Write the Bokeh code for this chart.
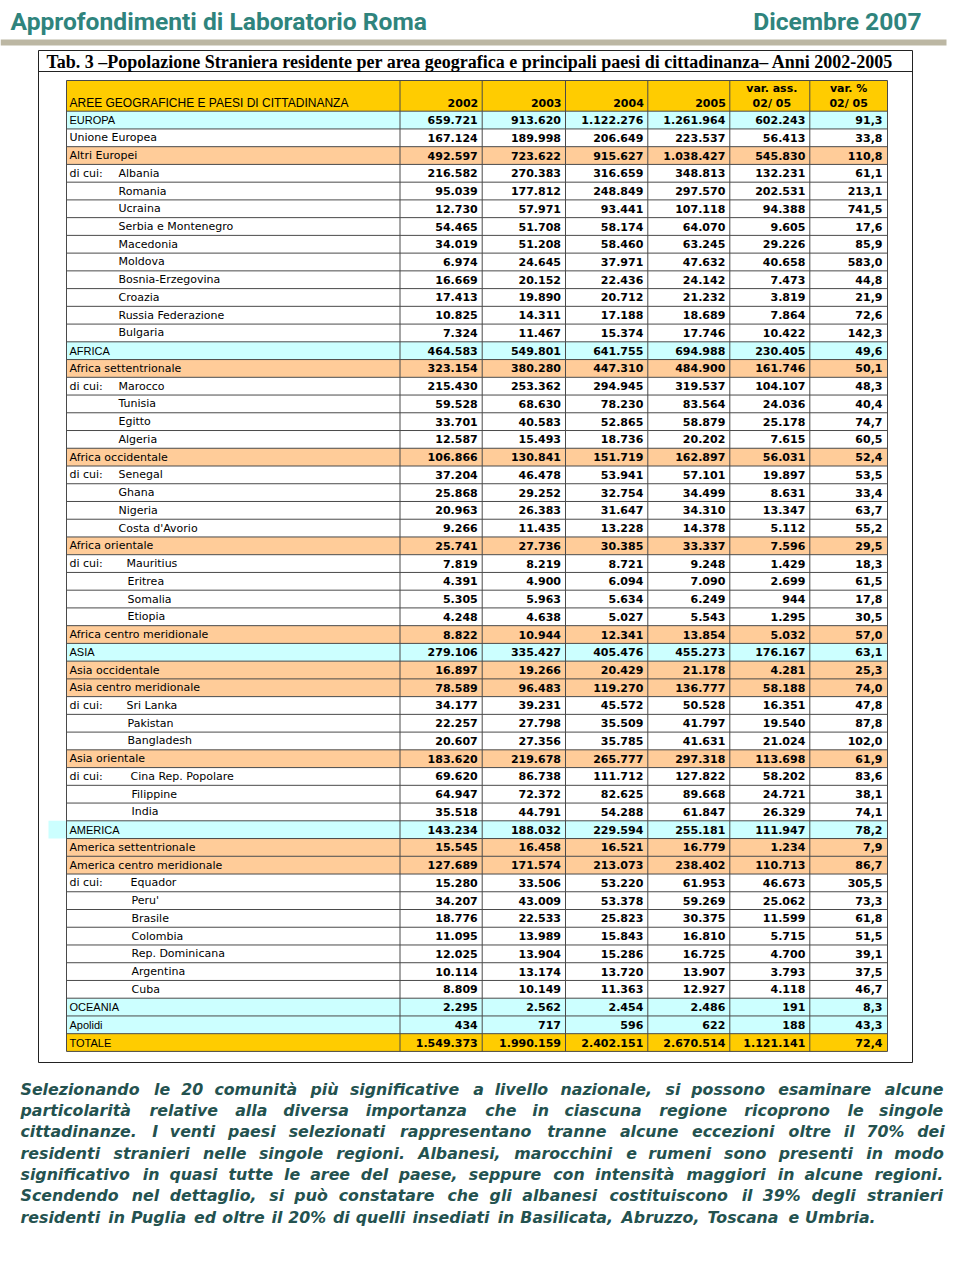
from bokeh.plotting import figure
from bokeh.models import ColumnDataSource, Range1d
from bokeh.embed import file_html
from bokeh.resources import INLINE
from bokeh.core.properties import value

# ---------------- data ----------------
labels = ["EUROPA", "Unione Europea", "Altri Europei", "Albania", "Romania", "Ucraina",
          "Serbia e Montenegro", "Macedonia", "Moldova", "Bosnia-Erzegovina", "Croazia",
          "Russia Federazione", "Bulgaria", "AFRICA", "Africa settentrionale", "Marocco",
          "Tunisia", "Egitto", "Algeria", "Africa occidentale", "Senegal", "Ghana", "Nigeria",
          "Costa d'Avorio", "Africa orientale", "Mauritius", "Eritrea", "Somalia", "Etiopia",
          "Africa centro meridionale", "ASIA", "Asia occidentale", "Asia centro meridionale",
          "Sri Lanka", "Pakistan", "Bangladesh", "Asia orientale", "Cina Rep. Popolare",
          "Filippine", "India", "AMERICA", "America settentrionale",
          "America centro meridionale", "Equador", "Peru'", "Brasile", "Colombia",
          "Rep. Dominicana", "Argentina", "Cuba", "OCEANIA", "Apolidi", "TOTALE"]

# row kinds: C = continent, S = sub-area, P = plain, F = first country ("di cui:"), K = country, T = total
kinds = ["C", "P", "S", "F", "K", "K", "K", "K", "K", "K", "K", "K", "K",
         "C", "S", "F", "K", "K", "K", "S", "F", "K", "K", "K", "S", "F", "K", "K", "K", "S",
         "C", "S", "S", "F", "K", "K", "S", "F", "K", "K",
         "C", "S", "S", "F", "K", "K", "K", "K", "K", "K", "C", "C", "T"]

# indentation group of country names
indent = ["-", "-", "-", "E", "E", "E", "E", "E", "E", "E", "E", "E", "E",
          "-", "-", "E", "E", "E", "E", "-", "E", "E", "E", "E", "-", "O", "O", "O", "O", "-",
          "-", "-", "-", "O", "O", "O", "-", "X", "X", "X",
          "-", "-", "-", "X", "X", "X", "X", "X", "X", "X", "-", "-", "-"]

v2002 = [659721, 167124, 492597, 216582, 95039, 12730, 54465, 34019, 6974, 16669, 17413, 10825, 7324,
         464583, 323154, 215430, 59528, 33701, 12587, 106866, 37204, 25868, 20963, 9266, 25741, 7819,
         4391, 5305, 4248, 8822, 279106, 16897, 78589, 34177, 22257, 20607, 183620, 69620, 64947, 35518,
         143234, 15545, 127689, 15280, 34207, 18776, 11095, 12025, 10114, 8809, 2295, 434, 1549373]
v2003 = [913620, 189998, 723622, 270383, 177812, 57971, 51708, 51208, 24645, 20152, 19890, 14311, 11467,
         549801, 380280, 253362, 68630, 40583, 15493, 130841, 46478, 29252, 26383, 11435, 27736, 8219,
         4900, 5963, 4638, 10944, 335427, 19266, 96483, 39231, 27798, 27356, 219678, 86738, 72372, 44791,
         188032, 16458, 171574, 33506, 43009, 22533, 13989, 13904, 13174, 10149, 2562, 717, 1990159]
v2004 = [1122276, 206649, 915627, 316659, 248849, 93441, 58174, 58460, 37971, 22436, 20712, 17188, 15374,
         641755, 447310, 294945, 78230, 52865, 18736, 151719, 53941, 32754, 31647, 13228, 30385, 8721,
         6094, 5634, 5027, 12341, 405476, 20429, 119270, 45572, 35509, 35785, 265777, 111712, 82625, 54288,
         229594, 16521, 213073, 53220, 53378, 25823, 15843, 15286, 13720, 11363, 2454, 596, 2402151]
v2005 = [1261964, 223537, 1038427, 348813, 297570, 107118, 64070, 63245, 47632, 24142, 21232, 18689, 17746,
         694988, 484900, 319537, 83564, 58879, 20202, 162897, 57101, 34499, 34310, 14378, 33337, 9248,
         7090, 6249, 5543, 13854, 455273, 21178, 136777, 50528, 41797, 41631, 297318, 127822, 89668, 61847,
         255181, 16779, 238402, 61953, 59269, 30375, 16810, 16725, 13907, 12927, 2486, 622, 2670514]
var_ass = [602243, 56413, 545830, 132231, 202531, 94388, 9605, 29226, 40658, 7473, 3819, 7864, 10422,
           230405, 161746, 104107, 24036, 25178, 7615, 56031, 19897, 8631, 13347, 5112, 7596, 1429,
           2699, 944, 1295, 5032, 176167, 4281, 58188, 16351, 19540, 21024, 113698, 58202, 24721, 26329,
           111947, 1234, 110713, 46673, 25062, 11599, 5715, 4700, 3793, 4118, 191, 188, 1121141]
var_pct = [91.3, 33.8, 110.8, 61.1, 213.1, 741.5, 17.6, 85.9, 583.0, 44.8, 21.9, 72.6, 142.3,
           49.6, 50.1, 48.3, 40.4, 74.7, 60.5, 52.4, 53.5, 33.4, 63.7, 55.2, 29.5, 18.3,
           61.5, 17.8, 30.5, 57.0, 63.1, 25.3, 74.0, 47.8, 87.8, 102.0, 61.9, 83.6, 38.1, 74.1,
           78.2, 7.9, 86.7, 305.5, 73.3, 61.8, 51.5, 39.1, 37.5, 46.7, 8.3, 43.3, 72.4]

col_headers = ["2002", "2003", "2004", "2005"]
header_label = "AREE GEOGRAFICHE E PAESI DI CITTADINANZA"

page_title = "Approfondimenti di Laboratorio Roma"
page_date = "Dicembre 2007"
table_title = ("Tab. 3 \u2013Popolazione Straniera residente per area geografica e principali "
               "paesi di cittadinanza\u2013 Anni 2002-2005")

paragraph = [
    "Selezionando le 20 comunità più significative a livello nazionale, si possono esaminare alcune",
    "particolarità relative alla diversa importanza che in ciascuna regione ricoprono le singole",
    "cittadinanze. I venti paesi selezionati rappresentano tranne alcune eccezioni oltre il 70% dei",
    "residenti stranieri nelle singole regioni. Albanesi, marocchini e rumeni sono presenti in modo",
    "significativo in quasi tutte le aree del paese, seppure con intensità maggiori in alcune regioni.",
    "Scendendo nel dettaglio, si può constatare che gli albanesi costituiscono il 39% degli stranieri",
    "residenti in Puglia ed oltre il 20% di quelli insediati in Basilicata, Abruzzo, Toscana e Umbria.",
]


def fmt_int(n):
    return f"{n:,}".replace(",", ".")


def fmt_pct(x):
    return f"{x:.1f}".replace(".", ",")


# approximate advance widths (em) of DejaVu Sans Bold, used to justify the paragraph
_W = {" ": 0.348, "a": 0.675, "b": 0.716, "c": 0.593, "d": 0.716, "e": 0.678, "f": 0.435,
      "g": 0.716, "h": 0.712, "i": 0.343, "j": 0.343, "k": 0.665, "l": 0.343, "m": 1.042,
      "n": 0.712, "o": 0.687, "p": 0.716, "q": 0.716, "r": 0.493, "s": 0.595, "t": 0.478,
      "u": 0.712, "v": 0.652, "w": 0.924, "x": 0.645, "y": 0.652, "z": 0.582, ",": 0.380,
      ".": 0.380, "%": 1.002, "S": 0.720, "I": 0.372, "A": 0.774, "P": 0.734, "B": 0.762,
      "T": 0.683, "U": 0.812, "à": 0.675, "ù": 0.712, "ò": 0.687}


def em_width(s):
    return 1.031 * sum(_W.get(ch, 0.696) for ch in s)


# ---------------- layout ----------------
W, H = 956, 1271
p = figure(width=W, height=H, x_range=Range1d(0, W), y_range=Range1d(H, 0),
           output_backend="svg", toolbar_location=None, min_border=0,
           x_axis_type=None, y_axis_type=None)
p.grid.visible = False
p.outline_line_color = None
p.background_fill_color = "white"
p.border_fill_color = "white"

TEAL = "#2f847d"
DARK_TEAL = "#24524f"

# page header
p.text(x=[10], y=[21], text=[page_title], text_font=value("Roboto"), text_font_size="24.6px",
       text_font_style="bold", text_color=TEAL, text_baseline="middle", text_align="left")
p.text(x=[921], y=[21], text=[page_date], text_font=value("Roboto"), text_font_size="24.6px",
       text_font_style="bold", text_color=TEAL, text_baseline="middle", text_align="right")
p.quad(left=[0], right=[946], top=[39], bottom=[45], fill_color="#bcb7a3", line_color=None)

# frame
FL, FR, FT, FB = 38, 912, 50, 1062
p.quad(left=[FL], right=[FR], top=[FT], bottom=[FB], fill_color=None, line_color="#222222", line_width=1)
p.segment(x0=[FL], x1=[FR], y0=[71], y1=[71], line_color="#222222", line_width=1)
p.text(x=[46], y=[61], text=[table_title], text_font=value("Liberation Serif"), text_font_size="18px",
       text_font_style="bold", text_color="black", text_baseline="middle", text_align="left")

# table geometry
cols = [66, 399.5, 481.7, 565.0, 647.3, 729.3, 809.3, 887.0]
HT = 80.0
top0 = 110.7
rh = 17.74
n = len(labels)
tops = [top0 + i * rh for i in range(n)]
mids = [t + rh / 2 for t in tops]

fill_map = {"C": "#ccffff", "S": "#ffcc99", "T": "#ffcc00", "P": "#ffffff", "F": "#ffffff", "K": "#ffffff"}
fills = [fill_map[k] for k in kinds]

# header background
p.quad(left=[cols[0]], right=[cols[-1]], top=[HT], bottom=[top0], fill_color="#ffcc00", line_color=None)
# row backgrounds
rows_src = ColumnDataSource(dict(left=[cols[0]] * n, right=[cols[-1]] * n, top=tops,
                                 bottom=[t + rh for t in tops], fill=fills))
p.quad(left="left", right="right", top="top", bottom="bottom", fill_color="fill",
       line_color=None, source=rows_src)
# stray cyan patch left of AMERICA row (as in the original)
ia = labels.index("AMERICA")
p.quad(left=[48], right=[cols[0]], top=[tops[ia]], bottom=[tops[ia] + rh], fill_color="#ccffff",
       line_color=None)

# grid lines
ys = [HT] + tops + [tops[-1] + rh]
p.segment(x0=[cols[0]] * len(ys), x1=[cols[-1]] * len(ys), y0=ys, y1=ys, line_color="#4a4a4a", line_width=1)
p.segment(x0=cols, x1=cols, y0=[HT] * len(cols), y1=[ys[-1]] * len(cols), line_color="#4a4a4a", line_width=1)

# header texts
hy = 102.5
p.text(x=[69], y=[hy], text=[header_label], text_font=value("Liberation Sans"), text_font_size="12px",
       text_color="black", text_baseline="middle", text_align="left")
p.text(x=[c - 4 for c in cols[2:6]], y=[hy] * 4, text=col_headers, text_font=value("DejaVu Sans"),
       text_font_size="11px", text_font_style="bold", text_color="black", text_baseline="middle",
       text_align="right")
p.text(x=[(cols[5] + cols[6]) / 2 + 2, (cols[5] + cols[6]) / 2 + 2], y=[87.5, 102.5],
       text=["var. ass.", "02/ 05"], text_font=value("DejaVu Sans"), text_font_size="11px",
       text_font_style="bold", text_color="black", text_baseline="middle", text_align="center")
p.text(x=[(cols[6] + cols[7]) / 2, (cols[6] + cols[7]) / 2], y=[87.5, 102.5],
       text=["var. %", "02/ 05"], text_font=value("DejaVu Sans"), text_font_size="11px",
       text_font_style="bold", text_color="black", text_baseline="middle", text_align="center")

# labels
ind_x = {"E": 118, "O": 127, "X": 131}
arial_x, arial_y, arial_t = [], [], []
dv_x, dv_y, dv_t = [], [], []
for i, (lab, k, ind) in enumerate(zip(labels, kinds, indent)):
    if k in ("C", "T"):
        arial_x.append(69); arial_y.append(mids[i]); arial_t.append(lab)
    elif k in ("S", "P"):
        dv_x.append(69); dv_y.append(mids[i]); dv_t.append(lab)
    else:
        if k == "F":
            dv_x.append(69); dv_y.append(mids[i]); dv_t.append("di cui:")
        x = ind_x[ind]
        if k == "F" and ind == "O":
            x = 126
        if k == "F" and ind == "X":
            x = 130
        dv_x.append(x); dv_y.append(mids[i]); dv_t.append(lab)

p.text(x=arial_x, y=arial_y, text=arial_t, text_font=value("Liberation Sans"), text_font_size="11px",
       text_color="black", text_baseline="middle", text_align="left")
p.text(x=dv_x, y=dv_y, text=dv_t, text_font=value("DejaVu Sans"), text_font_size="11px",
       text_color="black", text_baseline="middle", text_align="left")

# numbers
series = [v2002, v2003, v2004, v2005, var_ass]
nx, ny, nt = [], [], []
for j, s in enumerate(series):
    for i, v in enumerate(s):
        nx.append(cols[j + 2] - 4.5); ny.append(mids[i]); nt.append(fmt_int(v))
for i, v in enumerate(var_pct):
    nx.append(cols[7] - 5); ny.append(mids[i]); nt.append(fmt_pct(v))
p.text(x=nx, y=ny, text=nt, text_font=value("DejaVu Sans"), text_font_size="11px",
       text_font_style="bold", text_color="black", text_baseline="middle", text_align="right")

# paragraph (justified: words placed one by one, last line left aligned)
PL, PR = 20, 945
py0 = 1088.5
pls = 21.35
fs = 860.0 / em_width(paragraph[-1])
fs = max(14.0, min(18.0, fs))
wx, wy, wt = [], [], []
for li, line in enumerate(paragraph):
    words = line.split(" ")
    y = py0 + li * pls
    widths = [em_width(w) * fs for w in words]
    if li < len(paragraph) - 1 and len(words) > 1:
        gap = (PR - PL - sum(widths)) / (len(words) - 1)
    else:
        gap = _W[" "] * fs
    x = PL
    for w, ww in zip(words, widths):
        wx.append(x); wy.append(y); wt.append(w)
        x += ww + gap
p.text(x=wx, y=wy, text=wt, text_font=value("DejaVu Sans"), text_font_size=f"{fs:.1f}px",
       text_font_style="bold italic", text_color=DARK_TEAL, text_baseline="middle", text_align="left")

open("out.html", "w").write(file_html(p, INLINE))
